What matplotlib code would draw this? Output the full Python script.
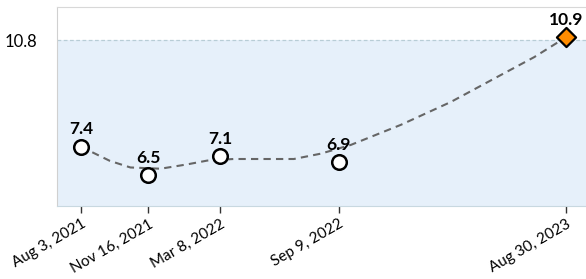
import matplotlib.pyplot as plt
import matplotlib.dates as mdates
import numpy as np
import pandas as pd

# --- data ---
dates = pd.to_datetime(['2021-08-03', '2021-11-16', '2022-03-08', '2022-09-09', '2023-08-30'])
values = [7.4, 6.5, 7.1, 6.9, 10.9]
tick_labels = ['Aug 3, 2021', 'Nov 16, 2021', 'Mar 8, 2022', 'Sep 9, 2022', 'Aug 30, 2023']

# smoothed trend line
trend_dates = pd.to_datetime([
    '2021-08-03', '2021-09-17', '2021-10-19', '2021-12-05', '2022-01-16',
    '2022-02-16', '2022-03-29', '2022-05-10', '2022-07-01', '2022-08-12',
    '2022-09-28', '2022-12-15', '2023-03-03', '2023-05-20', '2023-07-11',
    '2023-08-30'])
trend_values = [7.40, 6.95, 6.74, 6.70, 6.84,
                6.96, 7.01, 7.01, 7.01, 7.18,
                7.46, 8.10, 8.83, 9.69, 10.26,
                10.90]

ref_level = 10.8

plt.rcParams['font.family'] = ['Lato', 'DejaVu Sans']

fig = plt.figure(figsize=(5.86, 2.79), dpi=100)
ax = fig.add_axes([0.0973, 0.2616, 0.905, 0.7133])

y_min, y_max = 5.51, 11.86
ax.set_ylim(y_min, y_max)
ax.set_xlim(dates[0] - pd.Timedelta(days=37.5), dates[0] + pd.Timedelta(days=790))

# shaded band under the reference level
ax.axhspan(y_min, ref_level, color='#e6f0fa', zorder=0, lw=0)
ax.axhline(ref_level, color='#b8cdd6', lw=0.9, ls=(0, (3, 2)), zorder=1)

ax.plot(trend_dates, trend_values, color='#666666', lw=1.5,
        ls=(0, (3.5, 2.5)), zorder=2)

ax.scatter(dates[:-1], values[:-1], s=110, facecolor='white',
           edgecolor='black', linewidth=1.8, zorder=3)
ax.scatter(dates[-1:], values[-1:], s=95, marker='D', facecolor='#ff8c00',
           edgecolor='black', linewidth=1.6, zorder=3)

for d, val in zip(dates, values):
    ax.annotate(f'{val:.1f}', (d, val), xytext=(0, 12.5), textcoords='offset points',
                ha='center', va='center', fontsize=12.5, fontweight='bold', zorder=4)

ax.set_xticks(dates)
ax.set_xticklabels(tick_labels, rotation=30, ha='right', rotation_mode='anchor',
                   fontsize=11)
ax.set_yticks([ref_level])
ax.set_yticklabels(['10.8'], fontsize=12)
ax.tick_params(axis='x', length=5, width=1, color='#333333', pad=3)
ax.tick_params(axis='y', length=0, pad=14)

ax.spines['left'].set_color('#d0d0d0')
ax.spines['top'].set_color('#d8d8d8')
ax.spines['bottom'].set_color('#c8d8e0')
ax.spines['right'].set_visible(False)

fig.savefig('out.png', dpi=100)
